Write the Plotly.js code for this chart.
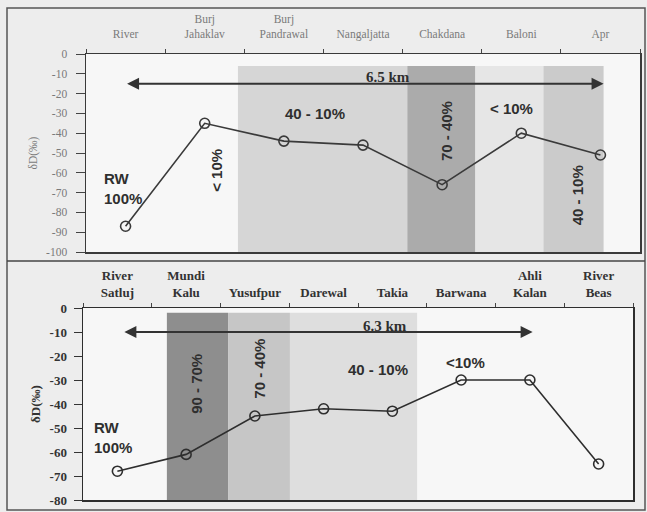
<!DOCTYPE html>
<html>
<head>
<meta charset="utf-8">
<script src="https://cdn.plot.ly/plotly-3.0.1.min.js"></script>
<style>html,body{margin:0;padding:0;background:#ededed;}#chart{width:647px;height:512px;}</style>
</head>
<body>
<div id="chart"></div>
<script>
// Top transect (6.5 km)
const topSites = ["River", "Burj<br>Jahaklav", "Burj<br>Pandrawal", "Nangaljatta", "Chakdana", "Baloni", "Apr"];
const topDD = [-87, -35, -44, -46, -66, -40, -51];
const topTicks = [0, -10, -20, -30, -40, -50, -60, -70, -80, -90, -100];
const topTickText = ["0", "-10", "-20", "-30", "-40", "-50", "-60", "-70", "-80", "-90", "-100"];

// Bottom transect (6.3 km)
const botSites = ["River<br>Satluj", "Mundi<br>Kalu", "Yusufpur", "Darewal", "Takia", "Barwana", "Ahli<br>Kalan", "River<br>Beas"];
const botDD = [-68, -61, -45, -42, -43, -30, -30, -65];
const botTicks = [0, -10, -20, -30, -40, -50, -60, -70, -80];
const botTickText = ["0", "-10", "-20", "-30", "-40", "-50", "-60", "-70", "-80"];

const W = 647, H = 512;
const px = v => v / W, py = v => 1 - v / H;

const traces = [
  {x: topSites, y: topDD, xaxis: 'x', yaxis: 'y', type: 'scatter', mode: 'lines+markers',
   line: {color: '#3a3a3a', width: 1.6},
   marker: {symbol: 'circle-open', size: 10, color: '#3a3a3a', line: {width: 1.6, color: '#3a3a3a'}},
   hoverinfo: 'skip'},
  {x: botSites, y: botDD, xaxis: 'x2', yaxis: 'y2', type: 'scatter', mode: 'lines+markers',
   line: {color: '#2e2e2e', width: 1.6},
   marker: {symbol: 'circle-open', size: 10, color: '#2e2e2e', line: {width: 1.6, color: '#2e2e2e'}},
   hoverinfo: 'skip'}
];

const band = (xr, yr, x0, x1, y0, y1, c) => ({type: 'rect', xref: xr, yref: yr, x0, x1, y0, y1,
  fillcolor: c, line: {width: 0}, layer: 'below'});

const shapes = [
  band('x', 'y', 1.42, 3.56, -6, -100, '#d6d6d6'),
  band('x', 'y', 3.56, 4.42, -6, -100, '#ababab'),
  band('x', 'y', 4.42, 5.28, -6, -100, '#e6e6e6'),
  band('x', 'y', 5.28, 6.04, -6, -100, '#cbcbcb'),
  band('x2', 'y2', 0.72, 1.61, -2, -80, '#8e8e8e'),
  band('x2', 'y2', 1.61, 2.51, -2, -80, '#c6c6c6'),
  band('x2', 'y2', 2.51, 4.36, -2, -80, '#dedede'),
  {type: 'rect', xref: 'paper', yref: 'paper', x0: px(7), x1: px(645), y0: py(510), y1: py(8),
   line: {color: '#555', width: 1.5}, fillcolor: 'rgba(0,0,0,0)'},
  {type: 'line', xref: 'paper', yref: 'paper', x0: px(7), x1: px(645), y0: py(261), y1: py(261),
   line: {color: '#444', width: 1.5}}
];

const pctFont = {family: 'Liberation Sans, Arial, sans-serif', size: 15, color: '#2f2f2f', weight: 'bold'};
const kmFont = {family: 'Liberation Serif, Times New Roman, serif', size: 15, color: '#2f2f2f', weight: 'bold'};
const txt = (xr, yr, x, y, text, angle, font, extra) => Object.assign({xref: xr, yref: yr, x, y, text,
  showarrow: false, textangle: angle || 0, font: font || pctFont, xanchor: 'center', yanchor: 'middle'}, extra || {});

const annotations = [
  // top panel
  {xref: 'x', yref: 'y', axref: 'x', ayref: 'y', x: 6.04, y: -15, ax: 0.0, ay: -15, text: '',
   showarrow: true, arrowhead: 2, startarrowhead: 2, arrowside: 'end+start', arrowsize: 1.2, arrowwidth: 2, arrowcolor: '#333'},
  txt('x', 'y', 3.32, -11.6, '6.5 km', 0, kmFont),
  txt('x', 'y', 2.39, -29.8, '40 - 10%'),
  txt('x', 'y', 1.14, -58.6, '< 10%', -90),
  txt('x', 'y', 4.05, -38.9, '70 - 40%', -90),
  txt('x', 'y', 4.88, -27.3, '< 10%'),
  txt('x', 'y', 5.72, -71.2, '40 - 10%', -90),
  txt('x', 'y', -0.30, -67.9, 'RW<br>100%', 0, pctFont, {xanchor: 'left', align: 'left'}),
  // bottom panel
  {xref: 'x2', yref: 'y2', axref: 'x2', ayref: 'y2', x: 6.04, y: -10, ax: 0.08, ay: -10, text: '',
   showarrow: true, arrowhead: 2, startarrowhead: 2, arrowside: 'end+start', arrowsize: 1.2, arrowwidth: 2, arrowcolor: '#333'},
  txt('x2', 'y2', 3.89, -7.5, '6.3 km', 0, kmFont),
  txt('x2', 'y2', 1.14, -31.7, '90 - 70%', -90),
  txt('x2', 'y2', 2.07, -25.4, '70 - 40%', -90),
  txt('x2', 'y2', 3.79, -25.8, '40 - 10%'),
  txt('x2', 'y2', 5.07, -22.5, '<10%'),
  txt('x2', 'y2', -0.37, -53.8, 'RW<br>100%', 0, pctFont, {xanchor: 'left', align: 'left'})
];

const serifGray = {family: 'Liberation Serif, Times New Roman, serif', size: 11.5, color: '#7a7a7a'};
const serifGrayX = {family: 'Liberation Serif, Times New Roman, serif', size: 11.5, color: '#7a7a7a'};
const serifBold = {family: 'Liberation Serif, Times New Roman, serif', size: 13, color: '#333', weight: 'bold'};

const layout = {
  width: W, height: H,
  margin: {l: 0, r: 0, t: 0, b: 0},
  paper_bgcolor: '#ededed',
  plot_bgcolor: '#f7f7f7',
  showlegend: false,
  xaxis: {domain: [px(86), px(640)], anchor: 'y', side: 'top', type: 'category',
    tickson: 'boundaries', ticks: 'outside', ticklen: 4, tickcolor: '#444', ticklabelstandoff: 10,
    showline: true, mirror: true, linecolor: '#3a3a3a', linewidth: 1.5,
    showgrid: false, zeroline: false, tickfont: serifGrayX, range: [-0.5, 6.5]},
  yaxis: {domain: [py(252), py(54)], anchor: 'x', range: [-100, 0], tickvals: topTicks, ticktext: topTickText,
    ticks: 'outside', ticklen: 9, tickcolor: '#444', ticklabelstandoff: 6,
    showline: true, mirror: true, linecolor: '#3a3a3a', linewidth: 1.5,
    showgrid: false, zeroline: false, tickfont: serifGray,
    title: {text: 'δD(‰)', font: serifGray, standoff: 6}},
  xaxis2: {domain: [px(83), px(633)], anchor: 'y2', side: 'top', type: 'category',
    tickson: 'boundaries', ticks: 'outside', ticklen: 4, tickcolor: '#444', ticklabelstandoff: 4,
    showline: true, mirror: true, linecolor: '#2e2e2e', linewidth: 1.5,
    showgrid: false, zeroline: false, tickfont: serifBold, range: [-0.5, 7.5]},
  yaxis2: {domain: [py(500), py(308)], anchor: 'x2', range: [-80, 0], tickvals: botTicks, ticktext: botTickText,
    ticks: 'outside', ticklen: 8, tickcolor: '#333', ticklabelstandoff: 4,
    showline: true, mirror: true, linecolor: '#2e2e2e', linewidth: 1.5,
    showgrid: false, zeroline: false, tickfont: serifBold,
    title: {text: 'δD(‰)', font: serifBold, standoff: 6}},
  shapes, annotations
};

Plotly.newPlot('chart', traces, layout, {displayModeBar: false, staticPlot: true});
</script>
</body>
</html>
